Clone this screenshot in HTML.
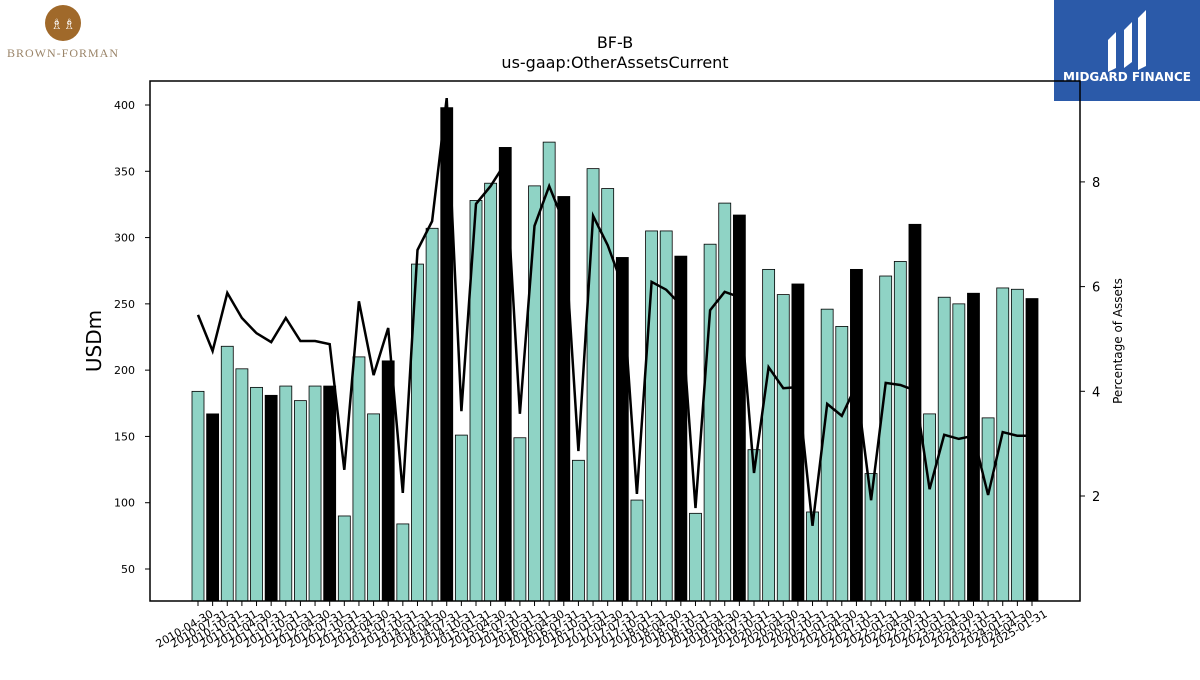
<!DOCTYPE html>
<html><head><meta charset="utf-8"><style>
body{margin:0;background:#fff;font-family:"Liberation Sans","DejaVu Sans",sans-serif}
svg text{font-family:"DejaVu Sans","Liberation Sans",sans-serif}
</style></head><body>
<svg id="chart" width="1200" height="675" xmlns="http://www.w3.org/2000/svg">
<g>
<circle cx="63" cy="23" r="18" fill="#a0692a"/>
<text x="63" y="29" font-size="14" fill="#fff" text-anchor="middle">♗♗</text>
<text x="63" y="57" font-size="12" fill="#9a8468" text-anchor="middle" style="font-family:'Liberation Serif',serif;letter-spacing:1px">BROWN-FORMAN</text>
</g>
<g>
<rect x="1054" y="0" width="146" height="101" fill="#2b5aa9"/>
<path d="M1108 40 l8 -8 v36 l-8 4z M1124 30 l8 -8 v40 l-8 6z M1138 18 l8 -8 v56 l-8 4z" fill="#fff"/>
<text x="1127" y="81" font-size="12" font-weight="bold" fill="#fff" text-anchor="middle">MIDGARD FINANCE</text>
</g>
<text x="615" y="48" font-size="16" text-anchor="middle">BF-B</text>
<text x="615" y="68" font-size="16" text-anchor="middle">us-gaap:OtherAssetsCurrent</text>
<g id="plot"></g>
<rect x="150" y="81" width="930" height="520" fill="none" stroke="#000" stroke-width="1.5"/>
<text transform="translate(101,341) rotate(-90)" font-size="20" text-anchor="middle">USDm</text>
<text transform="translate(1122,341) rotate(-90)" font-size="12" text-anchor="middle">Percentage of Assets</text>
</svg>
<script>
const values=[184,167,218,201,187,181,188,177,188,188,90,210,167,207,84,280,307,398,151,328,341,368,149,339,372,331,132,352,337,285,102,305,305,286,92,295,326,317,140,276,257,265,93,246,233,276,122,271,282,310,167,255,250,258,164,262,261,254];
const pct=[5.46,4.77,5.88,5.40,5.11,4.94,5.40,4.96,4.96,4.90,2.50,5.72,4.31,5.21,2.06,6.70,7.25,9.60,3.62,7.58,7.92,8.36,3.57,7.16,7.92,7.23,2.86,7.35,6.79,6.03,2.04,6.09,5.94,5.65,1.77,5.55,5.90,5.80,2.44,4.46,4.06,4.08,1.43,3.76,3.53,4.12,1.92,4.16,4.12,4.02,2.13,3.17,3.09,3.15,2.02,3.22,3.15,3.15];
const annual=[1,5,9,13,17,21,25,29,33,37,41,45,49,53,57];
const yTicks=[50,100,150,200,250,300,350,400];
const y2Ticks=[2,4,6,8];
const dates=(function(){const out=[];const m=['01-31','04-30','07-31','10-31'];let y=2010,q=1;while(out.length<58){out.push(y+'-'+m[q]);q++;if(q>3){q=0;y++;}}out[out.length-1]='2025-01-31';return out;})();
const NS='http://www.w3.org/2000/svg';
const g=document.getElementById('plot');
const x=i=>198+i*(1032-198)/57;
const y=v=>569-(v-50)*(464/350);
const y2=v=>496-(v-2)*52.35;
function el(t,a){const e=document.createElementNS(NS,t);for(const k in a)e.setAttribute(k,a[k]);g.appendChild(e);return e;}
values.forEach((v,i)=>{
 const b=el('rect',{x:x(i)-6,y:y(v),width:12,height:601-y(v),fill:annual.includes(i)?'#000':'#8fd3c5',stroke:'#000','stroke-width':0.8});
 
 
 el('line',{x1:x(i),x2:x(i),y1:601,y2:606,stroke:'#000'});
 const lx=x(i)+16, ly=616;
 const lb=el('text',{x:lx,y:ly,'font-size':11,'text-anchor':'end',transform:'rotate(-30 '+lx+' '+ly+')'});
 lb.textContent=dates[i];
 
 
});
let d='';pct.forEach((p,i)=>{d+=(i?'L':'M')+x(i).toFixed(1)+' '+y2(p).toFixed(1);});
const ln=el('path',{d:d,fill:'none',stroke:'#000','stroke-width':2.5});


yTicks.forEach(v=>{
 el('line',{x1:145,x2:150,y1:y(v),y2:y(v),stroke:'#000'});
 const t=el('text',{x:135,y:y(v)+4,'font-size':11,'text-anchor':'end'});t.textContent=v;
 
 
});
y2Ticks.forEach(v=>{
 el('line',{x1:1080,x2:1085,y1:y2(v),y2:y2(v),stroke:'#000'});
 const t=el('text',{x:1092,y:y2(v)+5,'font-size':13});t.textContent=v;
 
 
});
</script>
</body></html>
